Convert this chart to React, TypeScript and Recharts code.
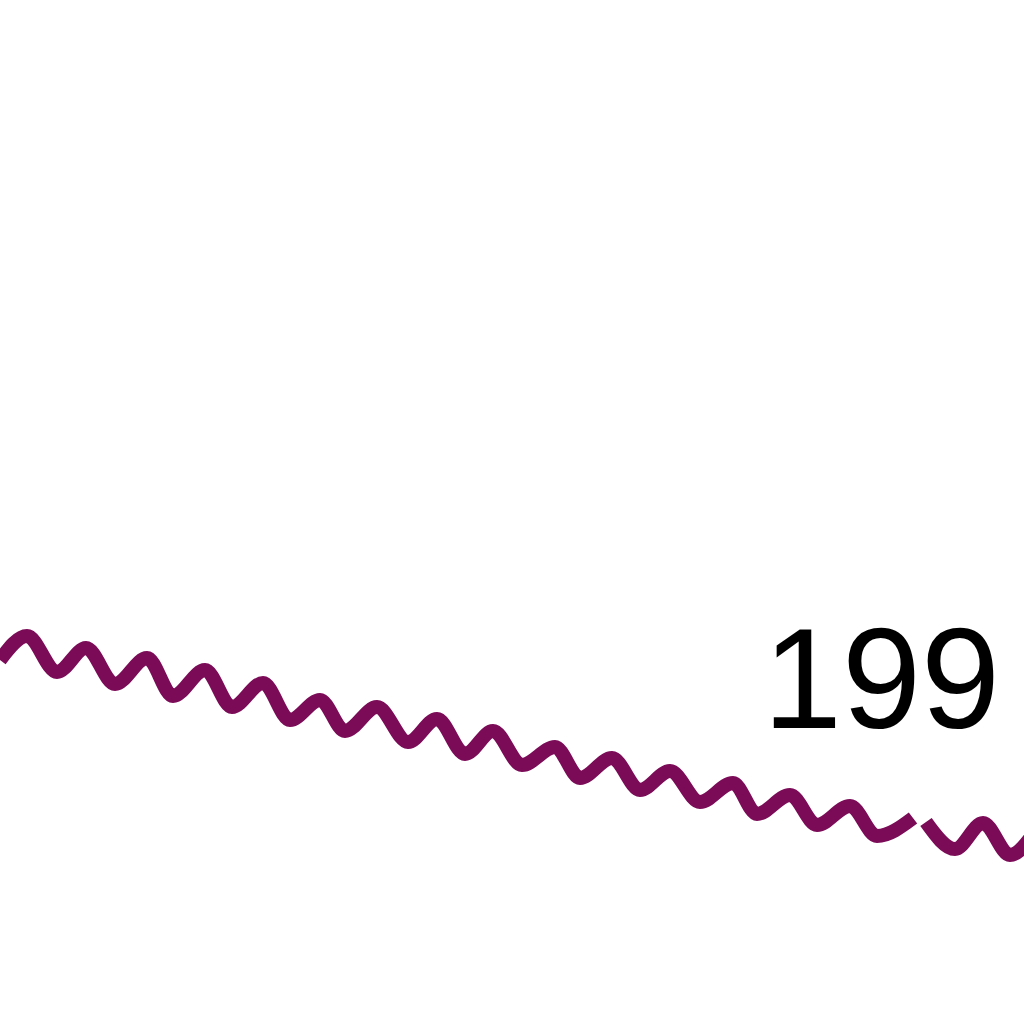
import React from "react";
import { LineChart, Line, XAxis, YAxis, ReferenceDot } from "recharts";

const waveX = [0, 27, 57, 86, 115, 147, 173, 205, 232, 263, 290, 320, 345, 377, 408, 437, 465, 493, 522, 555, 580, 612, 640, 670, 700, 733, 757, 790, 817, 850, 877, 913, 919, 926, 955, 983, 1010, 1036];
const waveY: (number | null)[] = [660, 636, 672, 648, 684, 658, 696, 670, 707, 683, 720, 700, 731, 707, 742, 719, 754, 731, 765, 747, 778, 758, 790, 771, 802, 783, 814, 795, 825, 806, 836, 818, null, 822, 849, 823, 855, 830];

const labelText = "199";
const labelX = 1000;
const labelY = 728;

const data = waveX.map((x, i) => ({ x, y: waveY[i] }));

const LabelContent = (props: any) => {
  const vb = props.viewBox || {};
  const cx = (vb.x ?? 0) + (vb.width ?? 0) / 2;
  const cy = (vb.y ?? 0) + (vb.height ?? 0) / 2;
  return (
    <text
      x={cx}
      y={cy}
      textAnchor="end"
      fontFamily="Liberation Sans, Arial, sans-serif"
      fontSize={142}
      fill="#000"
    >
      {labelText}
    </text>
  );
};

export default function App() {
  return (
    <div style={{ position: "absolute", left: 0, top: 0, width: 1024, height: 1024, background: "#fff" }}>
      <LineChart width={1024} height={1024} data={data} margin={{ top: 0, right: 0, bottom: 0, left: 0 }}>
        <XAxis dataKey="x" type="number" domain={[0, 1024]} allowDataOverflow hide />
        <YAxis type="number" domain={[0, 1024]} reversed allowDataOverflow hide />
        <Line
          dataKey="y"
          type="monotone"
          stroke="#7B0A57"
          strokeWidth={14}
          dot={false}
          activeDot={false}
          isAnimationActive={false}
          connectNulls={false}
          strokeLinejoin="round"
        />
        <ReferenceDot x={labelX} y={labelY} r={1} fill="none" stroke="none" ifOverflow="visible" label={<LabelContent />} />
      </LineChart>
    </div>
  );
}
